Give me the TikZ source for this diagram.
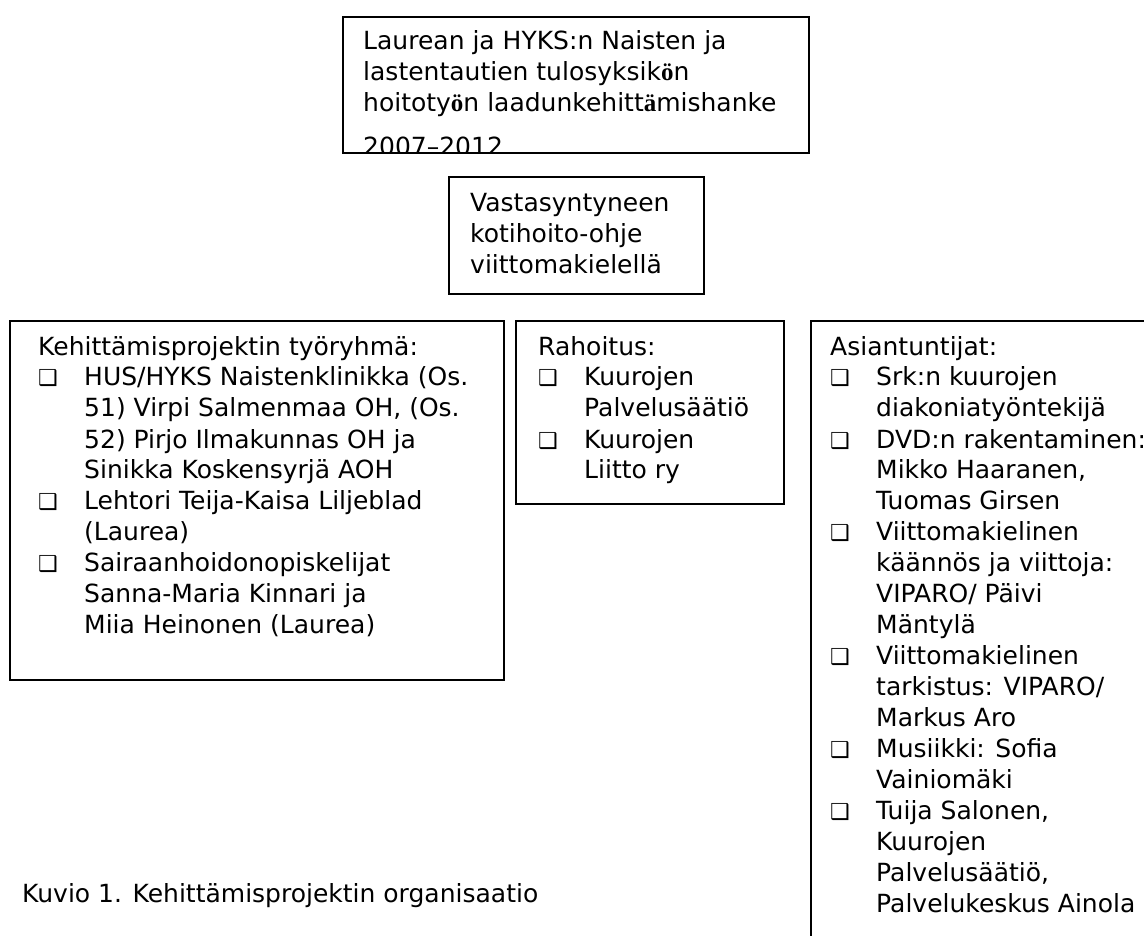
\documentclass[tikz,border=0pt]{standalone}
\usepackage{fontspec}
\setmainfont{DejaVu Sans}
\newfontfamily\lihava{Liberation Serif}
\usetikzlibrary{positioning}
\newcommand{\merkki}{{\fontsize{22}{22}\selectfont ❑}}
\newcommand{\kohta}{\makebox[46pt][l]{\merkki}}
\newcommand{\jatko}{\hspace*{46pt}}
\newcommand{\rivit}[1]{\parbox[t]{640pt}{\raggedright #1}}
\newcommand{\bo}[1]{{\lihava\bfseries #1}}

\tikzset{
  kehys/.style={draw, line width=1.8pt, anchor=north west, inner sep=0pt},
  teksti/.style={inner sep=0pt, anchor=base west, font=\fontsize{25}{31}\selectfont},
}

\begin{document}
\begin{tikzpicture}[x=1pt, y=-1pt]
\useasboundingbox (0,0) rectangle (1144,936);

% kehykset
\node[kehys, minimum width=466pt, minimum height=136pt] (hanke) at (342,16) {};
\node[kehys, minimum width=255pt, minimum height=117pt] (ohje) at (448,176) {};
\node[kehys, minimum width=494pt, minimum height=359pt] (tyoryhma) at (9,320) {};
\node[kehys, minimum width=268pt, minimum height=183pt] (rahoitus) at (515,320) {};
\node[kehys, minimum width=360pt, minimum height=640pt] (asiantuntijat) at (810,320) {};

% hanke, viimeinen rivi leikkautuu
\begin{scope}
\clip (hanke.north west) rectangle (hanke.south east);
\node[teksti, below right=34pt and 21pt of hanke.north west, anchor=base west] (hanketeksti) {\rivit{%
Laurean ja HYKS:n Naisten ja\\
lastentautien tulosyksik\bo{ö}n\\
hoitoty\bo{ö}n laadunkehitt\bo{ä}mishanke\\[13pt]
2007–2012}};
\end{scope}

\node[teksti, below right=36pt and 22pt of ohje.north west, anchor=base west] (ohjeteksti) {\rivit{%
Vastasyntyneen\\
kotihoito-ohje\\
viittomakielellä}};

\node[teksti, below right=35pt and 29pt of tyoryhma.north west, anchor=base west] (tyoryhmateksti) {\rivit{%
Kehittämisprojektin työryhmä:\\
\kohta HUS/HYKS Naistenklinikka (Os.\\
\jatko 51) Virpi Salmenmaa OH, (Os.\\
\jatko 52) Pirjo Ilmakunnas OH ja\\
\jatko Sinikka Koskensyrjä AOH\\
\kohta Lehtori Teija-Kaisa Liljeblad\\
\jatko (Laurea)\\
\kohta Sairaanhoidonopiskelijat\\
\jatko Sanna-Maria Kinnari ja\\
\jatko Miia Heinonen (Laurea)}};

\node[teksti, below right=35pt and 23pt of rahoitus.north west, anchor=base west] (rahoitusteksti) {\rivit{%
Rahoitus:\\
\kohta Kuurojen\\
\jatko Palvelusäätiö\\
\kohta Kuurojen\\
\jatko Liitto ry}};

\node[teksti, below right=35pt and 20pt of asiantuntijat.north west, anchor=base west] (asiantuntijateksti) {\rivit{%
Asiantuntijat:\\
\kohta Srk:n kuurojen\\
\jatko diakoniatyöntekijä\\
\kohta DVD:n rakentaminen:\\
\jatko Mikko Haaranen,\\
\jatko Tuomas Girsen\\
\kohta Viittomakielinen\\
\jatko käännös ja viittoja:\\
\jatko VIPARO/ Päivi\\
\jatko Mäntylä\\
\kohta Viittomakielinen\\
\jatko tarkistus: VIPARO/\\
\jatko Markus Aro\\
\kohta Musiikki: Sofia\\
\jatko Vainiomäki\\
\kohta Tuija Salonen,\\
\jatko Kuurojen\\
\jatko Palvelusäätiö,\\
\jatko Palvelukeskus Ainola}};

\node[teksti] (kuvio) at (22,902) {Kuvio 1. Kehittämisprojektin organisaatio};
\end{tikzpicture}
\end{document}
